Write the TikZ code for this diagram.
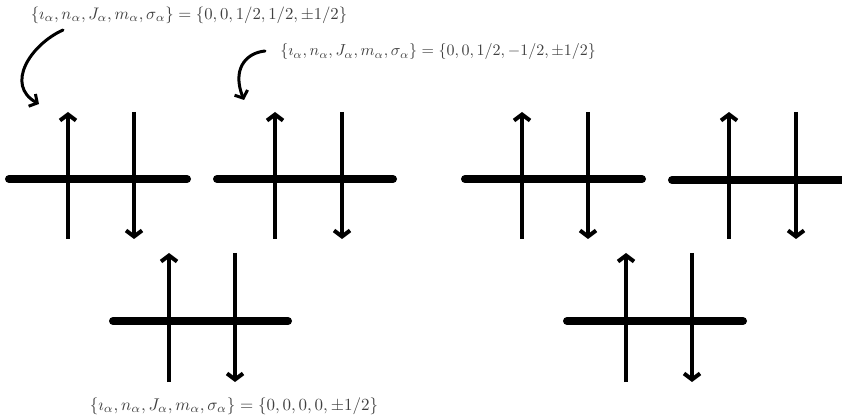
\documentclass[tikz,border=0pt]{standalone}
\usepackage{amsmath}
\usetikzlibrary{arrows.meta}
\begin{document}
\begin{tikzpicture}[x=1pt,y=-1pt,
  bar/.style={line width=8pt,line cap=round},
  spin/.style={line width=4pt,-{Straight Barb[length=6pt,width=16pt,line width=4pt]}},
  curvy/.style={line width=3pt,line cap=round,-{Straight Barb[length=6pt,width=14pt,line width=3pt]}},
  lab/.style={text=black!75,inner sep=0pt}]
\useasboundingbox (0,0) rectangle (842,419);
% level diagrams
\foreach \n/\xa/\xb/\xu/\xd/\yb/\yt/\ybot in {
  a/9/187/68/134/179/112/239,
  b/217/393/275/342/179/112/239,
  c/113/288/169/235/321/253/382,
  d/465/642/522/588/179/112/239,
  e/672/846/729/796/180/112/239,
  f/567/743/626/692/321/253/382}{
  \coordinate (\n L) at (\xa,\yb);
  \coordinate (\n R) at (\xb,\yb);
  \coordinate (\n ub) at (\xu,\ybot);
  \coordinate (\n ut) at (\xu,\yt);
  \coordinate (\n dt) at (\xd,\yt);
  \coordinate (\n db) at (\xd,\ybot);
  \draw[bar] (\n L) -- (\n R);
  \draw[spin] (\n ub) -- (\n ut);
  \draw[spin] (\n dt) -- (\n db);
}
% labels
\node[lab,scale=1.67] (t1) at (189,15) {$\{\imath_\alpha,n_\alpha,J_\alpha,m_\alpha,\sigma_\alpha\}=\{0,0,1/2,1/2,\pm1/2\}$};
\node[lab,scale=1.6,anchor=west] (t2) at (280,52) {$\{\imath_\alpha,n_\alpha,J_\alpha,m_\alpha,\sigma_\alpha\}=\{0,0,1/2,-1/2,\pm1/2\}$};
\node[lab,scale=1.7] (t3) at (234,406) {$\{\imath_\alpha,n_\alpha,J_\alpha,m_\alpha,\sigma_\alpha\}=\{0,0,0,0,\pm1/2\}$};
% curved arrows
\coordinate (s1) at (63,30);
\coordinate (e1) at (39,104);
\coordinate (s2) at (265,51);
\coordinate (e2) at (244,100);
\draw[curvy] (s1) .. controls (30,45) and (5,85) .. (e1);
\draw[curvy] (s2) .. controls (245,53) and (232,70) .. (e2);
\end{tikzpicture}
\end{document}
